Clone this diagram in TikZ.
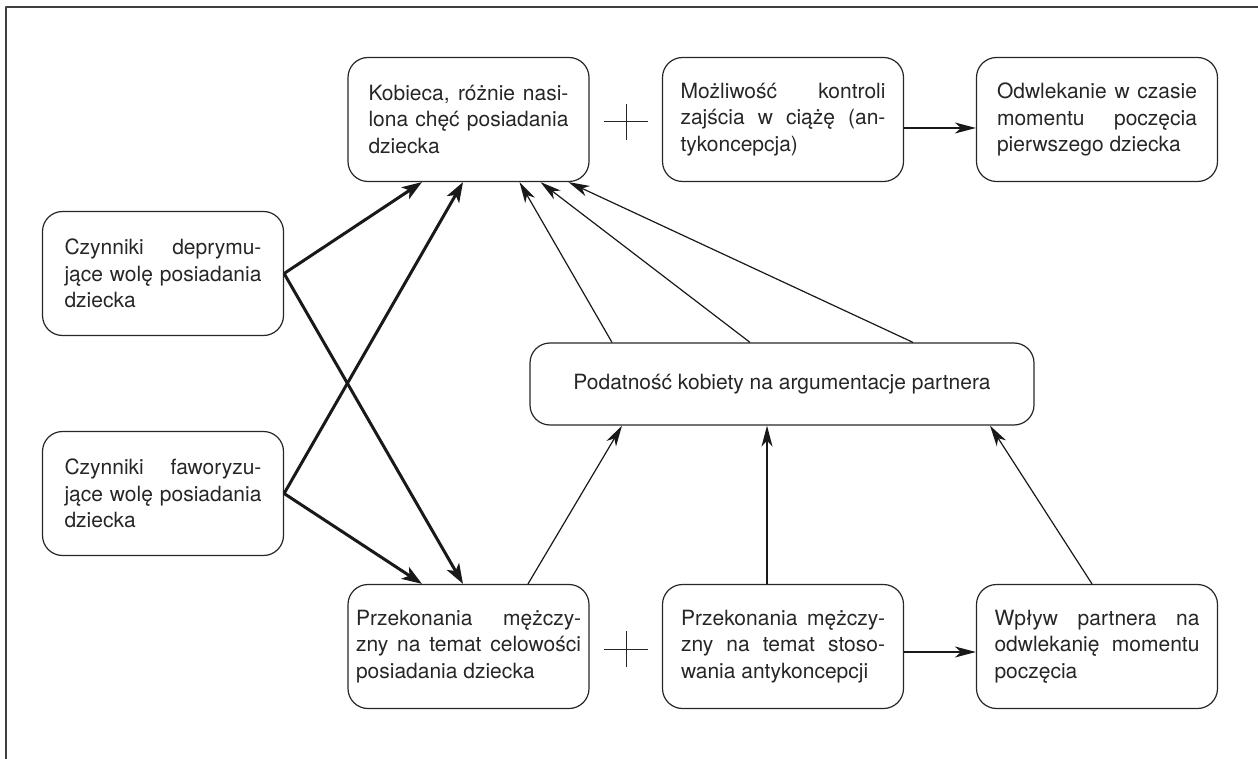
\documentclass[tikz,border=0pt]{standalone}
\usepackage{fontspec}
\setmainfont{TeX Gyre Heros}
\usetikzlibrary{arrows.meta}
\tolerance=10000
\hbadness=10000

\begin{document}
\begin{tikzpicture}[x=1pt, y=-1pt, line join=round,
  box/.style={draw=black!85, text=black!85, line width=1.2pt, rounded corners=20pt,
    minimum width=241pt, minimum height=124pt, inner sep=0pt, align=justify,
    font=\fontsize{21}{26.5}\selectfont},
  strong/.style={black!90, line width=3pt, -{Stealth[length=20pt,width=14pt,inset=5pt]}},
  weak/.style={black!90, line width=1.2pt, -{Stealth[length=21pt,width=11pt,inset=6pt]}},
  plusmark/.style={black!85, line width=1pt}]
  \useasboundingbox (0,0) rectangle (1258,759);
  % frame, top and left only
  \draw[black!75, line width=1.2pt] (6,759) -- (6,7) -- (1258,7);
  % top row
  \node[box, text width=200pt] (kob) at (468.5,119.5)
    {Kobieca, różnie nasi-\linebreak lona chęć posiadania\linebreak dziecka};
  \node[box, text width=205pt] (mozl) at (783,119.5)
    {Możliwość kontroli\linebreak zajścia w ciążę (an-\linebreak tykoncepcja)};
  \node[box, text width=200pt] (odwl) at (1097,119.5)
    {Odwlekanie w czasie\linebreak momentu poczęcia\linebreak pierwszego dziecka};
  % left column
  \node[box, text width=197pt] (czdep) at (163,273.5)
    {Czynniki deprymu-\linebreak jące wolę posiadania\linebreak dziecka};
  \node[box, text width=197pt] (czfaw) at (163,493.5)
    {Czynniki faworyzu-\linebreak jące wolę posiadania\linebreak dziecka};
  % middle
  \node[box, minimum width=504pt, minimum height=82pt, align=center] (podat) at (782,384)
    {Podatność kobiety na argumentacje partnera};
  % bottom row
  \node[box, text width=225pt] (przcel) at (468.5,646.5)
    {Przekonania mężczy-\linebreak zny na temat celowości\linebreak posiadania dziecka};
  \node[box, text width=204pt] (przant) at (783,646.5)
    {Przekonania mężczy-\linebreak zny na temat stoso-\linebreak wania antykoncepcji};
  \node[box, text width=205pt] (wplyw) at (1097,646.5)
    {Wpływ partnera na\linebreak odwlekanię momentu\linebreak poczęcia};
  % plus signs
  \coordinate (plusA) at (626,122);
  \coordinate (plusB) at (626,649);
  \foreach \p in {plusA, plusB}
    \draw[plusmark] ([xshift=-22pt]\p) -- ([xshift=22pt]\p)
      ([yshift=-18pt]\p) -- ([yshift=18pt]\p);
  % thick crossing arrows
  \draw[strong] (czdep.east) -- ([xshift=-46.5pt]kob.south);
  \draw[strong] (czdep.east) -- ([xshift=-5.5pt]przcel.north);
  \draw[strong] (czfaw.east) -- ([xshift=-5.5pt]kob.south);
  \draw[strong] (czfaw.east) -- ([xshift=-46.5pt]przcel.north);
  % thin arrows
  \draw[weak] ([xshift=-170pt]podat.north) -- ([xshift=51pt]kob.south);
  \draw[weak] ([xshift=-32pt]podat.north) -- ([xshift=72pt]kob.south);
  \draw[weak] ([xshift=131pt]podat.north) -- ([xshift=100pt]kob.south);
  \draw[weak] ([xshift=59.5pt]przcel.north) -- ([xshift=-160pt]podat.south);
  \draw[weak] ([xshift=-16pt]przant.north) -- ([xshift=-15pt]podat.south);
  \draw[weak] ([xshift=-5pt]wplyw.north) -- ([xshift=208pt]podat.south);
  \draw[weak] ([yshift=-8.5pt]mozl.east) -- ([yshift=-8.5pt]odwl.west);
  \draw[weak] ([yshift=-5.5pt]przant.east) -- ([yshift=-5.5pt]wplyw.west);
\end{tikzpicture}
\end{document}
